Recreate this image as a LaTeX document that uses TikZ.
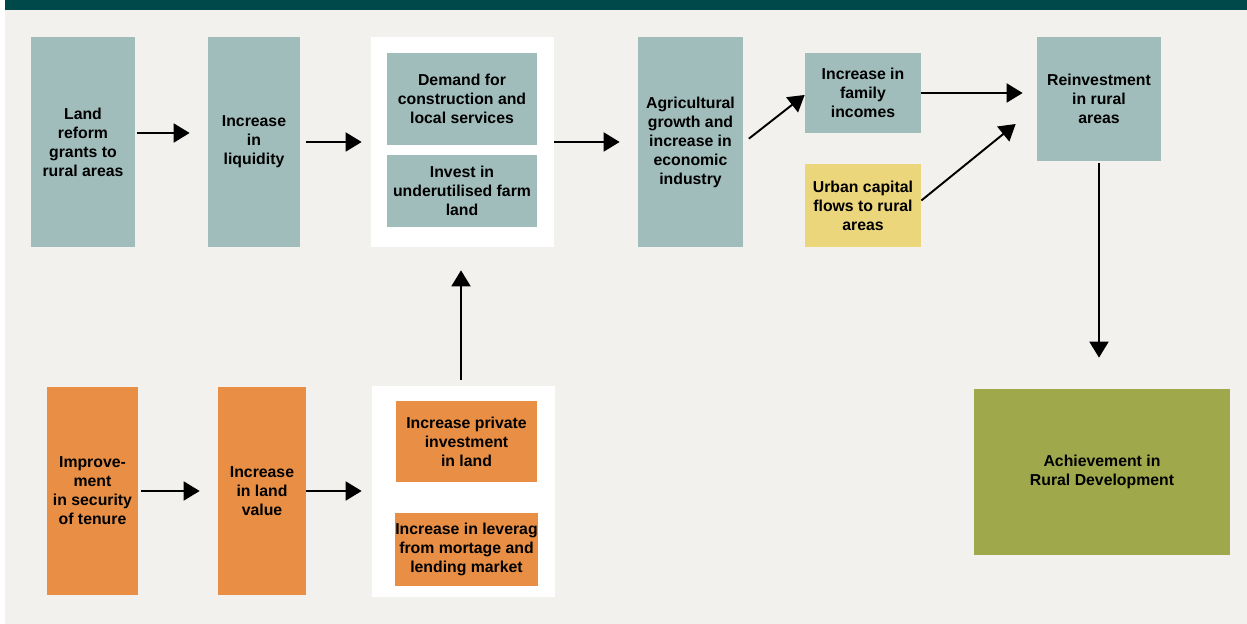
\documentclass[tikz,border=0pt]{standalone}
\usepackage{fontspec}
\setmainfont{Liberation Sans}
\usepackage{xcolor}
\usetikzlibrary{arrows.meta}
\definecolor{topbar}{HTML}{00494A}
\definecolor{paper}{HTML}{F2F1ED}
\definecolor{teal}{HTML}{A0BDBC}
\definecolor{orng}{HTML}{E98F45}
\definecolor{sand}{HTML}{EBD67B}
\definecolor{olive}{HTML}{9FA94C}
\tikzset{
  blk/.style={inner sep=0pt,align=center,font=\bfseries\fontsize{9}{10.8}\selectfont},
  sz/.style 2 args={minimum width=#1*0.02cm,minimum height=#2*0.02cm},
  flow/.style={line width=1.1pt,-{Triangle[length=0.32cm,width=0.38cm]}}
}
\begin{document}
\begin{tikzpicture}[x=0.02cm,y=-0.02cm]
\useasboundingbox (0,0) rectangle (1247,624);
\fill[paper](5,10) rectangle (1247,624);
\fill[topbar](5,0) rectangle (1247,10);
\node[blk,sz={104}{210},fill=teal](land) at (83,142) {Land\\reform\\grants to\\rural areas};
\node[blk,sz={92}{210},fill=teal](liq) at (254,142) {Increase\\in\\liquidity};
\node[blk,sz={183}{210},fill=white](grpA) at (462.5,142) {};
\node[blk,sz={150}{92},fill=teal](dem) at (462,99) {Demand for\\construction and\\local services};
\node[blk,sz={150}{72},fill=teal](inv) at (462,191) {Invest in\\underutilised farm\\land};
\node[blk,sz={105}{210},fill=teal](agri) at (690.5,142) {Agricultural\\growth and\\increase in\\economic\\industry};
\node[blk,sz={116}{80},fill=teal](fam) at (863,93) {Increase in\\family\\incomes};
\node[blk,sz={116}{83},fill=sand](urb) at (863,205.5) {Urban capital\\flows to rural\\areas};
\node[blk,sz={124}{124},fill=teal](reinv) at (1099,99) {Reinvestment\\in rural\\areas};
\node[blk,sz={256}{166},fill=olive](ach) at (1102,472) {Achievement in\\Rural Development};
\node[blk,sz={91}{208},fill=orng](impr) at (92.5,491) {Improve-\\ment\\in security\\of tenure};
\node[blk,sz={88}{208},fill=orng](lval) at (262,491) {Increase\\in land\\value};
\node[blk,sz={183}{211},fill=white](grpB) at (463.5,491.5) {};
\node[blk,sz={141}{81},fill=orng](priv) at (466.5,441.5) {Increase private\\investment\\in land};
\node[blk,sz={141}{73},fill=orng](lev) at (466.5,549.5) {Increase in leverag\\from mortage and\\lending market};
\draw[flow,shorten <=0.04cm,shorten >=0.36cm]([yshift=0.18cm]land.east)--([yshift=0.18cm]liq.west);
\draw[flow,shorten <=0.12cm,shorten >=0.18cm](liq.east)--(grpA.west);
\draw[flow,shorten >=0.36cm](grpA.east)--(agri.west);
\draw[flow,shorten <=0.14cm]([yshift=-0.02cm]agri.east)--([yshift=-0.04cm]fam.west);
\draw[flow,shorten >=0.28cm](fam.east)--(fam.east-|reinv.west);
\draw[flow]([yshift=0.1cm]urb.east)--([xshift=-0.42cm,yshift=-0.5cm]reinv.west);
\draw[flow,shorten <=0.04cm,shorten >=0.62cm](reinv.south)--(reinv.south|-ach.north);
\draw[flow,shorten <=0.06cm,shorten >=0.36cm](impr.east)--(lval.west);
\draw[flow,shorten >=0.2cm](lval.east)--(lval.east-|grpB.west);
\draw[flow,shorten <=0.12cm,shorten >=0.46cm]([xshift=-0.05cm]grpB.north)--([xshift=-0.03cm]grpA.south);
\end{tikzpicture}
\end{document}
